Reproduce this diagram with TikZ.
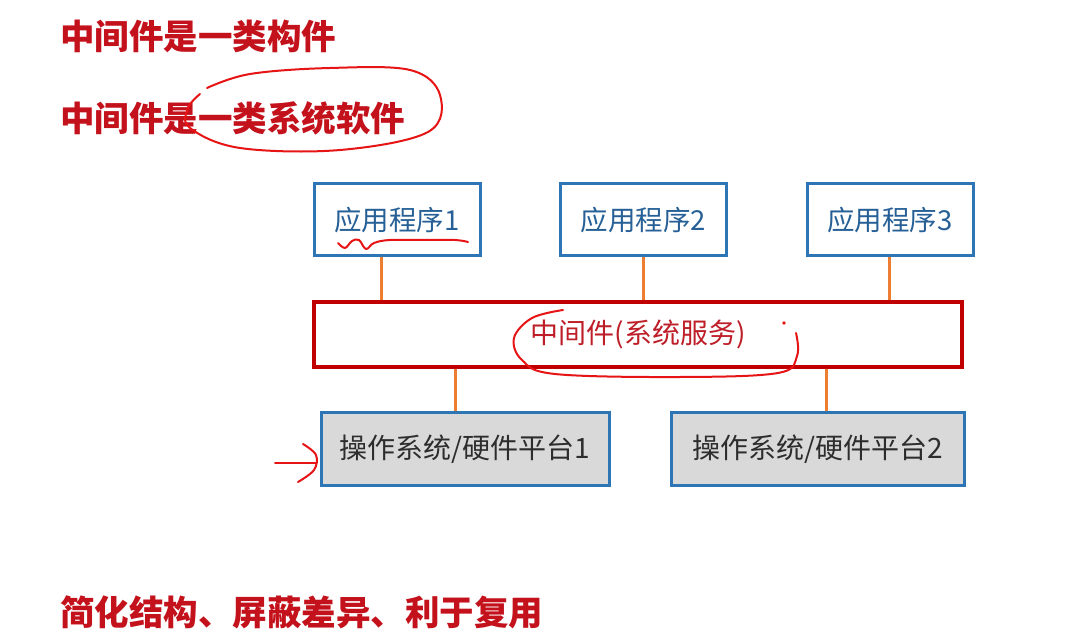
\documentclass[tikz,border=0pt]{standalone}
\usepackage{fontspec}
\newfontfamily\cjk{Noto Sans CJK SC}
\definecolor{titlered}{RGB}{196,18,28}
\definecolor{boxblue}{RGB}{46,117,182}
\definecolor{apptext}{RGB}{38,96,150}
\definecolor{mwred}{RGB}{192,0,0}
\definecolor{mwtext}{RGB}{190,30,40}
\definecolor{linkorange}{RGB}{237,125,49}
\definecolor{osgrey}{RGB}{217,217,217}
\definecolor{ostext}{RGB}{45,45,45}
\definecolor{penred}{RGB}{230,20,20}
\tikzset{
  title/.style={anchor=west,inner sep=0pt,text=titlered,font=\cjk\bfseries\fontsize{34.5}{38}\selectfont},
  appbox/.style={draw=boxblue,line width=3pt,fill=white,minimum width=166pt,minimum height=72pt,inner sep=0pt,text=apptext,font=\cjk\fontsize{27.5}{30}\selectfont},
  mwbox/.style={draw=mwred,line width=4pt,fill=white,minimum width=648pt,minimum height=65pt,inner sep=0pt,text=mwtext,font=\cjk\fontsize{28}{30}\selectfont},
  osbox/.style={draw=boxblue,line width=3pt,fill=osgrey,minimum height=72pt,inner sep=0pt,text=ostext,font=\cjk\fontsize{28}{30}\selectfont},
  link/.style={draw=linkorange,line width=3pt},
  pen/.style={draw=penred,line width=2pt,line cap=round,line join=round}
}
\begin{document}
\begin{tikzpicture}[x=1pt,y=-1pt]
\useasboundingbox[fill=white] (0,0) rectangle (1080,644);
\node[title] (t1) at (60,36) {中间件是一类构件};
\node[title] (t2) at (60,118) {中间件是一类系统软件};
\node[title] (t3) at (60,612) {简化结构、屏蔽差异、利于复用};

\node[appbox] (a1) at (397,220) {应用程序1};
\node[appbox] (a2) at (643.5,220) {应用程序2};
\node[appbox] (a3) at (890,220) {应用程序3};
\node[mwbox] (mw) at (638,334.5) {中间件(系统服务)};
\node[osbox,minimum width=288pt] (o1) at (465,449) {操作系统/硬件平台1};
\node[osbox,minimum width=293pt] (o2) at (817.5,449) {操作系统/硬件平台2};

\draw[link] ([xshift=-16pt]a1.south) -- ([xshift=-16pt]a1.south |- mw.north);
\draw[link] (a2.south) -- (a2.south |- mw.north);
\draw[link] ([xshift=-1pt]a3.south) -- ([xshift=-1pt]a3.south |- mw.north);
\draw[link] ([xshift=-10pt]o1.north) -- ([xshift=-10pt]o1.north |- mw.south);
\draw[link] ([xshift=8.5pt]o2.north) -- ([xshift=8.5pt]o2.north |- mw.south);

% hand-drawn annotations
\draw[pen] plot[smooth,tension=0.6] coordinates {(207,88) (250,74) (330,68) (410,70) (440,95) (428,132) (340,150) (240,148) (190,128) (188,108) (200,94)};
\draw[pen] plot[smooth,tension=0.6] coordinates {(338,243) (345,248) (352,241) (359,240) (366,249) (374,243) (390,240) (425,240) (455,240) (468,242)};
\draw[pen] plot[smooth,tension=0.6] coordinates {(563,310) (532,318) (514,338) (522,360) (555,374) (680,377) (778,373) (797,356) (796,333)};
\fill[penred] (784,323) circle (1.8pt);
\coordinate (ar) at ([xshift=-3pt]o1.west |- 0,463);
\draw[pen] (275,463) -- (ar);
\draw[pen] plot[smooth,tension=0.6] coordinates {(303,444) (316,455) (314,470) (298,482)};
\end{tikzpicture}
\end{document}
